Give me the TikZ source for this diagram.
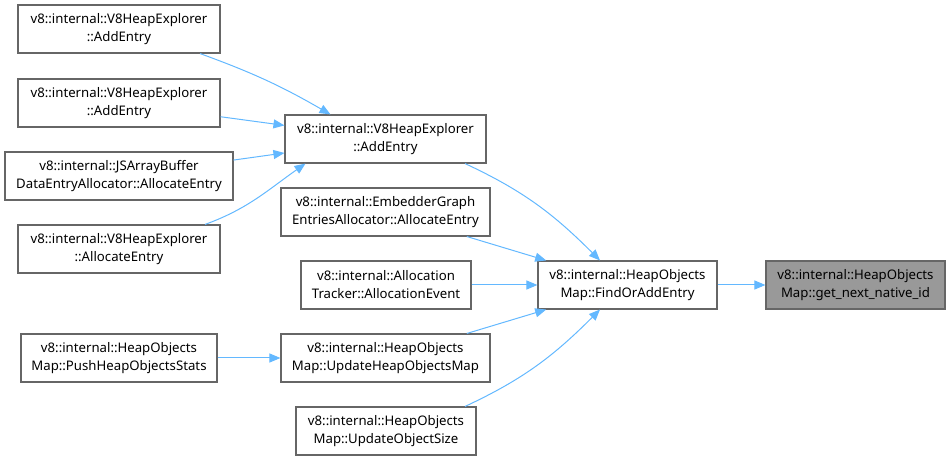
\documentclass[tikz,border=0pt]{standalone}
\usepackage{fontspec}
\setmainfont{Noto Sans}
\usetikzlibrary{arrows.meta}
\definecolor{edgeblue}{HTML}{63B8FF}
\definecolor{boxgray}{HTML}{666666}
\definecolor{fillgray}{HTML}{999999}
\begin{document}
\begin{tikzpicture}[x=1pt, y=-1pt,
    fn/.style={draw=boxgray, line width=1.1pt, fill=white, align=center,
      minimum height=48pt, inner xsep=6pt, inner ysep=0pt,
      font=\fontsize{13.2}{18}\selectfont},
    calledfn/.style={fn, fill=fillgray},
    call/.style={draw=edgeblue, line width=1pt, -{Triangle[length=11pt,width=9pt]}}]

\useasboundingbox (0,0) rectangle (951,462);

%% ---- Chiamanti di secondo livello ----
\node[fn, minimum width=202pt] (addA)  at (119,29)  {v8::internal::V8HeapExplorer\\::AddEntry};
\node[fn, minimum width=202pt] (addB)  at (119,103) {v8::internal::V8HeapExplorer\\::AddEntry};
\node[fn, minimum width=228pt] (jsbuf) at (119,176) {v8::internal::JSArrayBuffer\\DataEntryAllocator::AllocateEntry};
\node[fn, minimum width=202pt] (alloc) at (119,249) {v8::internal::V8HeapExplorer\\::AllocateEntry};
\node[fn, minimum width=196pt] (push)  at (119,358) {v8::internal::HeapObjects\\Map::PushHeapObjectsStats};

%% ---- Chiamanti diretti ----
\node[fn, minimum width=201pt] (addmid) at (385.5,139) {v8::internal::V8HeapExplorer\\::AddEntry};
\node[fn, minimum width=209pt] (embed)  at (385.5,212) {v8::internal::EmbedderGraph\\EntriesAllocator::AllocateEntry};
\node[fn, minimum width=170pt] (track)  at (386,285)   {v8::internal::Allocation\\Tracker::AllocationEvent};
\node[fn, minimum width=209pt] (update) at (385.5,358) {v8::internal::HeapObjects\\Map::UpdateHeapObjectsMap};
\node[fn, minimum width=180pt] (size)   at (386,431)   {v8::internal::HeapObjects\\Map::UpdateObjectSize};

%% ---- FindOrAddEntry e funzione chiamata ----
\node[fn, minimum width=179pt]       (find)   at (627.5,285) {v8::internal::HeapObjects\\Map::FindOrAddEntry};
\node[calledfn, minimum width=179pt] (nextid) at (855.5,285) {v8::internal::HeapObjects\\Map::get\_next\_native\_id};

%% ---- Frecce ----
\draw[call] ([xshift=81pt]addA.south) to[out=-20, in=150] ([xshift=-55pt]addmid.north);
\draw[call] (addB) -- (addmid);
\draw[call] (jsbuf) -- (addmid);
\draw[call] ([xshift=86pt]alloc.north) to[out=20, in=-145] ([xshift=-80pt]addmid.south);
\draw[call] (push) -- (update);

\draw[call] ([xshift=79.5pt]addmid.south) to[out=-25, in=135] ([xshift=-27.5pt]find.north);
\draw[call] (embed) -- (find);
\draw[call] (track) -- (find);
\draw[call] (update) -- (find);
\draw[call] ([xshift=79pt]size.north) to[out=25, in=-135] ([xshift=-27.5pt]find.south);

\draw[call] (find) -- (nextid);

\end{tikzpicture}
\end{document}
